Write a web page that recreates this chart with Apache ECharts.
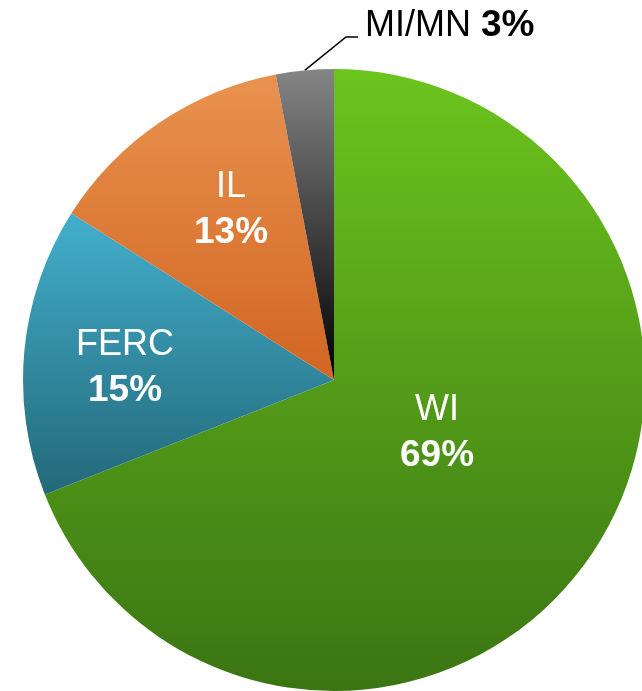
<!DOCTYPE html>
<html>
<head>
<meta charset="utf-8">
<script src="https://cdn.jsdelivr.net/npm/echarts@6/dist/echarts.min.js"></script>
<style>
html,body{margin:0;padding:0;background:#fff;}
#c{width:642px;height:691px;}
</style>
</head>
<body>
<div id="c"></div>
<script>
const categories = ['WI', 'FERC', 'IL', 'MI/MN'];
const values = [69, 15, 13, 3];
const percentLabels = ['69%', '15%', '13%', '3%'];

const gradients = [
  ['#6CC41E', '#3B7513'],
  ['#43AFCC', '#236879'],
  ['#E9924F', '#D26522'],
  ['#858585', '#000000']
];
// label anchor (px) for inside labels
const labelAnchors = {
  'WI': [437, 433],
  'FERC': [125, 368],
  'IL': [231, 210]
};

const FONT = '"Liberation Sans", Arial, sans-serif';
const chart = echarts.init(document.getElementById('c'), null, {renderer: 'canvas'});

const data = categories.map((name, i) => {
  const item = {
    name: name,
    value: values[i],
    itemStyle: {
      color: new echarts.graphic.LinearGradient(0, 0, 0, 1, [
        {offset: 0, color: gradients[i][0]},
        {offset: 1, color: gradients[i][1]}
      ])
    }
  };
  if (name === 'MI/MN') {
    item.label = {
      position: 'outside',
      formatter: '{n|' + name + ' }{p|' + percentLabels[i] + '}',
      rich: {
        n: {fontFamily: FONT, fontSize: 36, color: '#000', fontWeight: 'normal'},
        p: {fontFamily: FONT, fontSize: 37, color: '#000', fontWeight: 'bold'}
      }
    };
    item.labelLine = {show: true, lineStyle: {color: '#000', width: 1.5}};
  } else {
    item.label = {
      position: 'inside',
      formatter: '{n|' + name + '}\n{p|' + percentLabels[i] + '}',
      rich: {
        n: {fontFamily: FONT, fontSize: 36, color: '#fff', fontWeight: 'normal', lineHeight: 45, align: 'center'},
        p: {fontFamily: FONT, fontSize: 37, color: '#fff', fontWeight: 'bold', lineHeight: 45, align: 'center'}
      }
    };
    item.labelLine = {show: false};
  }
  return item;
});

chart.setOption({
  animation: false,
  backgroundColor: '#fff',
  series: [{
    type: 'pie',
    center: [334, 380],
    radius: 311,
    startAngle: 90,
    clockwise: true,
    avoidLabelOverlap: false,
    itemStyle: {borderWidth: 0},
    data: data,
    labelLayout: function (params) {
      const name = categories[params.dataIndex];
      if (labelAnchors[name]) {
        return {x: labelAnchors[name][0], y: labelAnchors[name][1], align: 'center', verticalAlign: 'middle'};
      }
      const start = params.labelLinePoints ? params.labelLinePoints[0] : [305, 70];
      return {
        x: 365, y: 26, align: 'left', verticalAlign: 'middle',
        labelLinePoints: [start, [346, 37], [358, 37]]
      };
    }
  }]
});
</script>
</body>
</html>
